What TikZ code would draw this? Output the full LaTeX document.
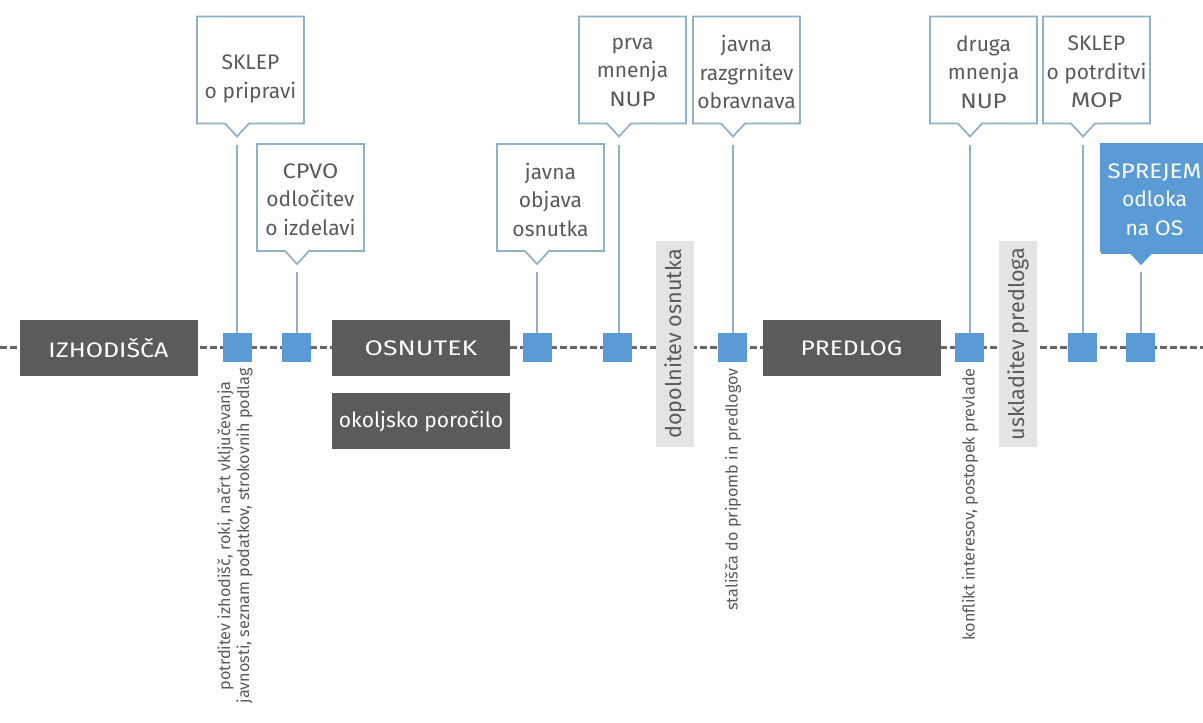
\documentclass[tikz,border=0pt]{standalone}
\usepackage{fontspec}
\usepackage{graphicx}
\setmainfont{Fira Sans}
\usetikzlibrary{calc}
\definecolor{dbox}{HTML}{5B5B5B}
\definecolor{sq}{HTML}{5B9BD5}
\definecolor{cb}{HTML}{93AFC4}
\definecolor{tx}{HTML}{5A5A5A}
\definecolor{bandc}{HTML}{E4E4E4}
\definecolor{tl}{HTML}{666666}
\newcommand\wide[2][1.17]{\scalebox{#1}[1]{#2}}
% #1 extra style, #2 name, #3 left x, #4 top y, #5 text
\newcommand\mycallout[5][]{%
  \draw[cbline,#1] (#3,#4) -- ++(107,0) -- ++(0,107) -- ++(-55,0) -- ++(-12,13) -- ++(-12,-13) -- ++(-28,0) -- cycle;
  \node[cbtext,#1] (#2) at ($(#3,#4)+(53.5,55.5)$) {#5};
  \coordinate (#2-foot) at ($(#3,#4)+(40,128)$);
}
\begin{document}
\begin{tikzpicture}[x=0.5pt,y=-0.5pt,
  timeline/.style={draw=tl,line width=1.5pt,dash pattern=on 3.5pt off 1.5pt},
  phase/.style={fill=dbox,text=white,minimum width=89pt,minimum height=28pt,inner sep=0pt,font=\fontsize{10.5}{13}\selectfont},
  bandn/.style={fill=bandc,text=tx,rotate=90,minimum width=103pt,minimum height=19pt,inner sep=0pt,font=\fontsize{10.8}{12}\selectfont},
  sqn/.style={fill=sq,minimum size=14.5pt,inner sep=0pt},
  cbline/.style={draw=cb,line width=0.85pt,fill=white},
  cbtext/.style={text=tx,align=center,minimum size=53.5pt,inner sep=0pt,font=\fontsize{10.5}{14.25}\selectfont},
  filledcb/.style={fill=sq,draw=sq,text=white},
  vline/.style={draw=cb,line width=1pt},
  vlabel/.style={rotate=90,anchor=east,align=center,text=tx,inner sep=0pt,font=\fontsize{8.1}{9.5}\selectfont}]
\clip (0,0) rectangle (1203,722);
\fill[white] (0,0) rectangle (1203,722);
\coordinate (tl-start) at (0,347.5);
\coordinate (tl-end) at (1203,347.5);
\draw[timeline] (tl-start) -- (tl-end);
% phases
\node[phase] (izh) at (108.5,348) {\wide[1.19]{IZHODIŠČA}};
\node[phase] (osn) at (421,348) {\wide[1.27]{OSNUTEK}};
\node[phase] (okp) at (421,421) {okoljsko poročilo};
\node[phase] (pred) at (851.5,348) {\wide[1.17]{PREDLOG}};
% bands
\node[bandn] (dop) at (675,344) {dopolnitev osnutka};
\node[bandn] (usk) at (1018,344) {uskladitev predloga};
% callouts
\mycallout{c1}{197}{16.5}{\rule{0pt}{14pt}SKLEP\\o pripravi}
\mycallout{c2}{257}{144}{\wide[1.12]{CPVO}\\odločitev\\o izdelavi}
\mycallout{c3}{497}{144}{javna\\objava\\osnutka}
\mycallout{c4}{579}{16.5}{prva\\mnenja\\\wide[1.15]{NUP}}
\mycallout{c5}{693}{16.5}{javna\\razgrnitev\\obravnava}
\mycallout{c6}{930}{16.5}{druga\\mnenja\\\wide[1.15]{NUP}}
\mycallout{c7}{1043}{16.5}{SKLEP\\o potrditvi\\\wide[1.2]{MOP}}
\mycallout[filledcb]{c8}{1101}{144}{\wide[1.15]{SPREJEM}\\odloka\\na \wide[1.1]{OS}}
% squares
\node[sqn] (s1) at (237.5,347.5) {};
\node[sqn] (s2) at (296.5,347.5) {};
\node[sqn] (s3) at (537.5,347.5) {};
\node[sqn] (s4) at (617.5,347.5) {};
\node[sqn] (s5) at (732.5,347.5) {};
\node[sqn] (s6) at (969.5,347.5) {};
\node[sqn] (s7) at (1082.5,347.5) {};
\node[sqn] (s8) at (1140.5,347.5) {};
% connectors
\foreach \i in {1,...,8}{\draw[vline] (c\i-foot) -- (c\i-foot |- s\i.north);}
% labels
\node[vlabel] (l1) at (235,368) {potrditev izhodišč, roki, načrt vključevanja\\javnosti, seznam podatkov, strokovnih podlag};
\node[vlabel] (l5) at (733,368) {stališča do pripomb in predlogov};
\node[vlabel] (l6) at (970,368) {konflikt interesov, postopek prevlade};
\end{tikzpicture}
\end{document}
